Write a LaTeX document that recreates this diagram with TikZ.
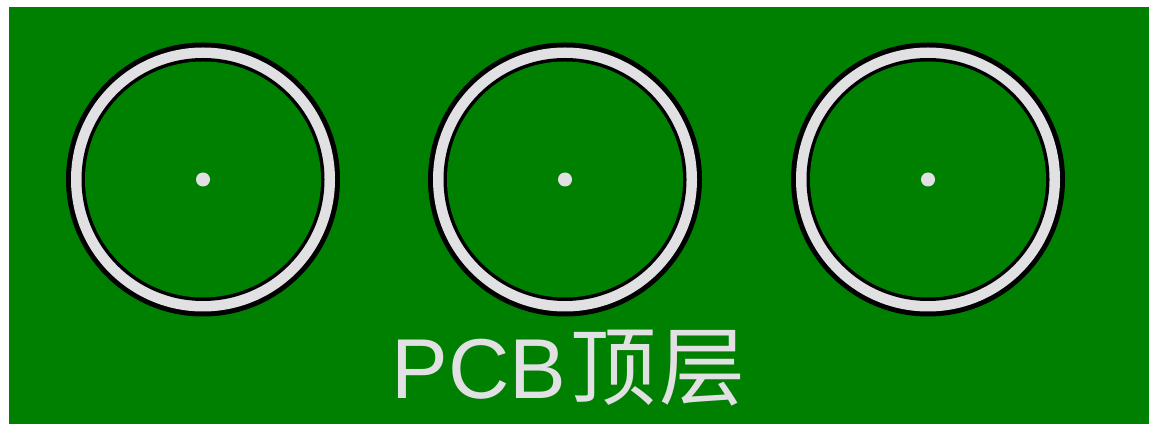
\documentclass[tikz,border=0pt]{standalone}
\usepackage{fontspec}
\setmainfont{Liberation Sans}
\newfontfamily\cjk{Noto Sans CJK SC}
\definecolor{pcbgreen}{RGB}{0,128,0}
\definecolor{pcbgrey}{RGB}{225,225,228}
\begin{document}
\begin{tikzpicture}[x=1pt,y=-1pt,
  hole/.style={fill=pcbgrey},
  board/.style={fill=pcbgreen}]
\useasboundingbox (0,0) rectangle (1156,435);
\fill[white] (0,0) rectangle (1156,435);
\fill[board] (9,7) rectangle (1149,424);
\foreach \n/\cx in {a/203,b/565,c/928}{
  \coordinate (\n) at (\cx,179.5);
  \fill[black] (\n) circle (137);
  \fill[pcbgrey] (\n) circle (132);
  \fill[black] (\n) circle (121.5);
  \fill[pcbgreen] (\n) circle (118);
  \fill[hole] (\n) circle (7);
}
\node[anchor=base west, inner sep=0pt, text=pcbgrey, font=\fontsize{85}{90}\selectfont] (label) at (391.5,398) {PCB\hspace{4pt}{\cjk\fontsize{86}{90}\selectfont 顶\hspace{3pt}层}};
\end{tikzpicture}
\end{document}
